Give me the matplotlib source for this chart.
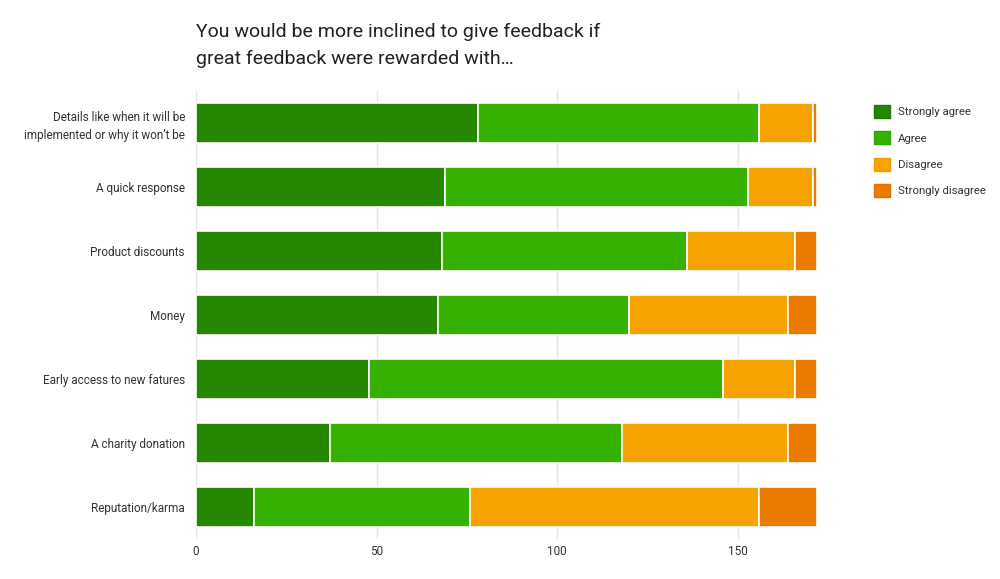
import matplotlib.pyplot as plt
from matplotlib.patches import Patch

categories = ['Details like when it will be\nimplemented or why it won\u2019t be',
              'A quick response',
              'Product discounts',
              'Money',
              'Early access to new fatures',
              'A charity donation',
              'Reputation/karma']
strongly_agree = [78, 69, 68, 67, 48, 37, 16]
agree = [78, 84, 68, 53, 98, 81, 60]
disagree = [15, 18, 30, 44, 20, 46, 80]
strongly_disagree = [1, 1, 6, 8, 6, 8, 16]

series = ['Strongly agree', 'Agree', 'Disagree', 'Strongly disagree']
colors = ['#268701', '#36b100', '#f6a300', '#eb7a00']
edges = ['#1e7a00', '#2ea600', '#f29a00', '#e07000']

plt.rcParams['font.family'] = ['Roboto', 'DejaVu Sans']

fig = plt.figure(figsize=(10, 5.79), dpi=100)
ax = fig.add_axes([0.196, 0.069, 0.621, 0.774])

y = list(range(len(categories)))
left = [0] * len(categories)
for vals, c, name in zip([strongly_agree, agree, disagree, strongly_disagree], colors, series):
    ax.barh(y, vals, left=left, height=0.625, color=c, edgecolor='white', linewidth=1.2, label=name)
    left = [l + v for l, v in zip(left, vals)]

ax.set_xlim(0, 172)
ax.set_ylim(6.5, -0.5)
ax.set_yticks(y)
ax.set_yticklabels(categories, fontsize=8.5, color='#333333', linespacing=1.5)
ax.set_xticks([0, 50, 100, 150])
ax.set_xticklabels(['0', '50', '100', '150'], fontsize=8.5, color='#333333')
ax.tick_params(axis='x', length=0, pad=4)
ax.tick_params(axis='y', length=0, pad=8)
ax.grid(axis='x', color='#e6e6e6', linewidth=1)
ax.set_axisbelow(True)
for s in ax.spines.values():
    s.set_visible(False)

fig.text(0.196, 0.96, 'You would be more inclined to give feedback if\ngreat feedback were rewarded with\u2026',
         fontsize=14, color='#212121', ha='left', va='top', linespacing=1.62)

handles = [Patch(facecolor=c, edgecolor=e) for c, e in zip(colors, edges)]
fig.legend(handles, series, loc='upper left', bbox_to_anchor=(0.864, 0.8365), frameon=False,
           fontsize=8.2, handlelength=1.35, handleheight=1.35, labelspacing=1.2, handletextpad=0.7,
           labelcolor='#333333')

fig.savefig('out.png', dpi=100)
